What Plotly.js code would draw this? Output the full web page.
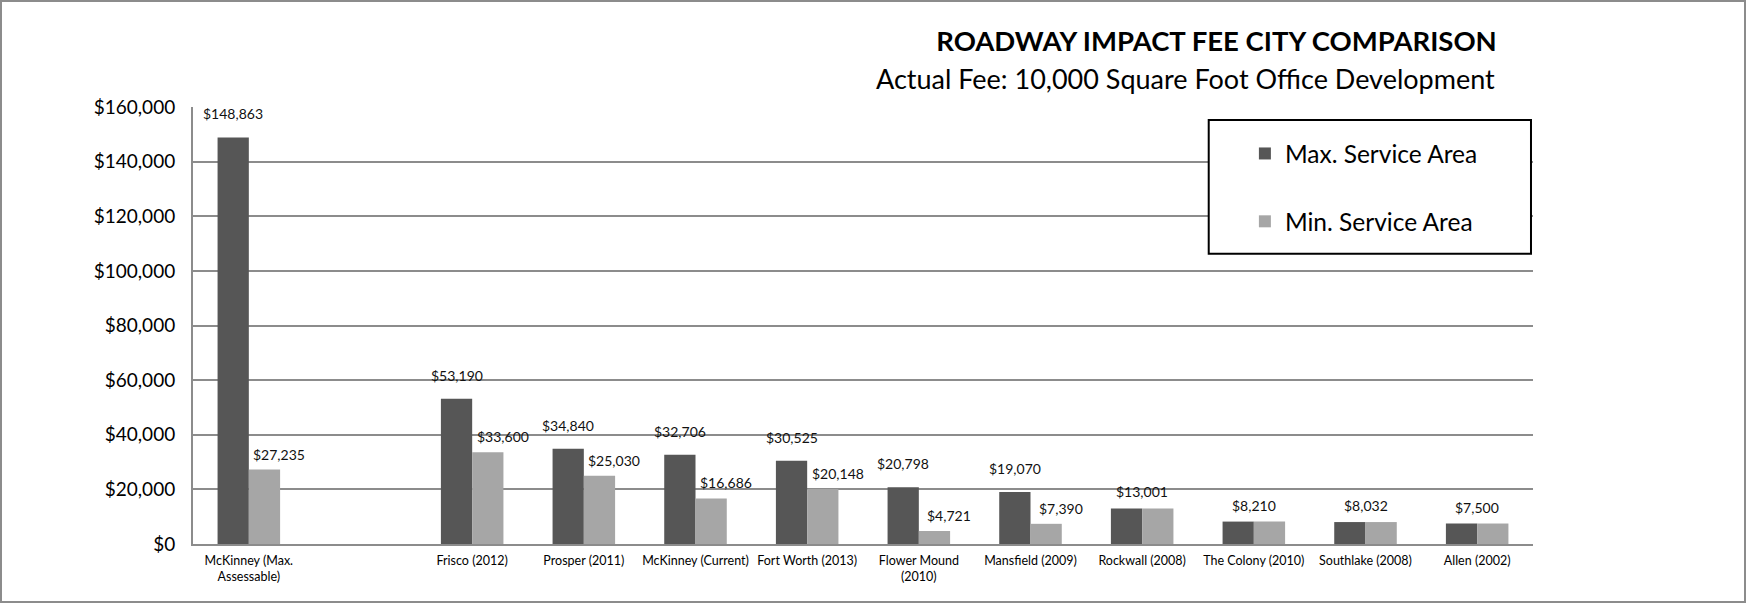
<!DOCTYPE html>
<html>
<head>
<meta charset="utf-8">
<script src="https://cdn.plot.ly/plotly-3.0.1.min.js"></script>
<style>
  html, body { margin: 0; padding: 0; background: #fff; }
  #wrap { position: relative; width: 1746px; height: 603px; }
  #chart { width: 1746px; height: 603px; }
  #frame { position: absolute; left: 0; top: 0; width: 1746px; height: 603px; box-sizing: border-box; border: 2px solid #8c8c8c; pointer-events: none; }
</style>
</head>
<body>
<div id="wrap"><div id="chart"></div><div id="frame"></div></div>
<script>
const categories = [
  'McKinney (Max.<br>Assessable)', ' ', 'Frisco (2012)', 'Prosper (2011)', 'McKinney (Current)',
  'Fort Worth (2013)', 'Flower Mound<br>(2010)', 'Mansfield (2009)', 'Rockwall (2008)',
  'The Colony (2010)', 'Southlake (2008)', 'Allen (2002)'
];
const maxServiceArea = [148863, null, 53190, 34840, 32706, 30525, 20798, 19070, 13001, 8210, 8032, 7500];
const minServiceArea = [27235, null, 33600, 25030, 16686, 20148, 4721, 7390, 13001, 8210, 8032, 7500];
const seriesNames = ['Max. Service Area', 'Min. Service Area'];
const yTicks = [0, 20000, 40000, 60000, 80000, 100000, 120000, 140000, 160000];

const FONT = 'Lato, "Open Sans", sans-serif';
const fmt = v => '$' + v.toLocaleString('en-US');

const traces = [
  { type: 'bar', name: seriesNames[0], x: categories, y: maxServiceArea,
    marker: { color: '#565656' }, legendgroup: 'a', hoverinfo: 'x+y' },
  { type: 'bar', name: seriesNames[1], x: categories, y: minServiceArea,
    marker: { color: '#a6a6a6' }, legendgroup: 'b', hoverinfo: 'x+y' }
];

const halfBar = 15.6;
const annotations = [];
categories.forEach((c, i) => {
  const a = maxServiceArea[i], b = minServiceArea[i];
  if (a == null) return;
  if (a === b) {
    annotations.push({ x: c, y: a, xref: 'x', yref: 'y', text: fmt(a), showarrow: false,
      yanchor: 'bottom', yshift: 6, font: { family: FONT, size: 14, color: '#111' } });
  } else {
    annotations.push({ x: c, y: a, xref: 'x', yref: 'y', text: fmt(a), showarrow: false,
      xshift: -halfBar, yanchor: 'bottom', yshift: 13, font: { family: FONT, size: 14, color: '#111' } });
    annotations.push({ x: c, y: b, xref: 'x', yref: 'y', text: fmt(b), showarrow: false,
      xshift: halfBar + 15, yanchor: 'bottom', yshift: 5, font: { family: FONT, size: 14, color: '#111' } });
  }
});
annotations.push({
  xref: 'paper', yref: 'paper', x: 0.973, y: 1.066, xanchor: 'right', yanchor: 'middle',
  text: 'Actual Fee: 10,000 Square Foot Office Development', showarrow: false,
  font: { family: FONT, size: 27, color: '#000' }
});

const layout = {
  width: 1746, height: 603,
  margin: { l: 193, r: 213, t: 107, b: 59 },
  paper_bgcolor: '#fff', plot_bgcolor: '#fff',
  font: { family: FONT, color: '#000' },
  title: {
    text: '<b>ROADWAY IMPACT FEE CITY COMPARISON</b>',
    xref: 'paper', x: 0.973, xanchor: 'right',
    yref: 'container', y: 0.932, yanchor: 'middle',
    font: { family: FONT, size: 27.5, color: '#000' }
  },
  barmode: 'group', bargap: 0.44, bargroupgap: 0,
  xaxis: {
    type: 'category', categoryorder: 'array', categoryarray: categories,
    showline: true, linecolor: '#8c8c8c', linewidth: 2,
    showgrid: false, ticks: '', ticklabelstandoff: 4,
    tickfont: { family: FONT, size: 12.5, color: '#000' },
    automargin: false
  },
  yaxis: {
    range: [0, 160000], tickmode: 'array', tickvals: yTicks, ticktext: yTicks.map(fmt),
    showline: true, linecolor: '#8c8c8c', linewidth: 2,
    showgrid: true, gridcolor: '#8c8c8c', gridwidth: 2, zeroline: false,
    ticks: '', ticklabelstandoff: 12,
    tickfont: { family: FONT, size: 19, color: '#000' }, automargin: false
  },
  showlegend: true,
  legend: {
    x: 0.785, y: 0.945, xanchor: 'left', yanchor: 'top',
    bgcolor: 'rgba(0,0,0,0)', borderwidth: 0,
    font: { family: FONT, size: 24.5, color: '#000' },
    tracegroupgap: 33, traceorder: 'grouped'
  },
  shapes: [{
    type: 'rect', xref: 'paper', yref: 'paper', layer: 'above',
    x0: 0.758, x1: 0.9985, y0: 0.664, y1: 0.970,
    line: { color: '#000', width: 2 }, fillcolor: '#fff'
  }],
  annotations: annotations
};

Plotly.newPlot('chart', traces, layout, { displayModeBar: false, staticPlot: true });
</script>
</body>
</html>
